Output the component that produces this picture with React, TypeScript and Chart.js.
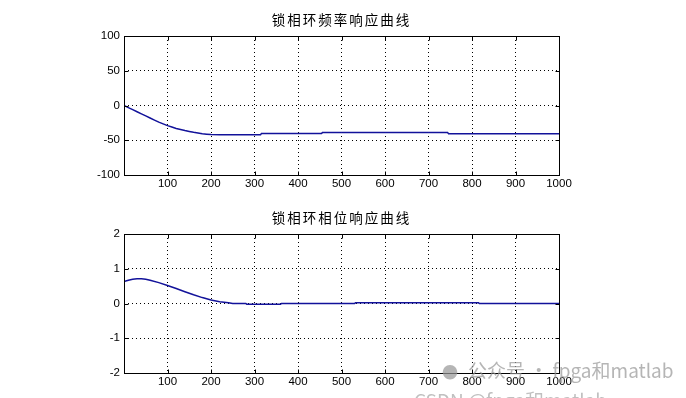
import React, { useEffect, useRef } from "react";
import { Chart, registerables } from "chart.js";

Chart.register(...registerables);

const freqTitle = "锁相环频率响应曲线";
const phaseTitle = "锁相环相位响应曲线";

const freqX = [0, 10, 20, 30, 40, 50, 60, 70, 80, 90, 100, 110, 120, 130, 140, 150, 160, 170, 180, 190, 200, 220, 250, 280, 314, 316, 454, 456, 744, 746, 1000];
const freqY = [0, -3, -6, -9, -12, -15, -18, -21, -24, -26.5, -29, -31, -33, -34.5, -36, -37.3, -38.5, -39.5, -40.5, -41.2, -41.8, -42, -42, -42, -42, -40.2, -40.2, -39, -39, -40.5, -40.5];

const phaseX = [0, 10, 20, 30, 40, 50, 60, 80, 100, 120, 140, 160, 180, 200, 220, 240, 250, 280, 282, 360, 362, 530, 532, 815, 817, 1000];
const phaseY = [0.63, 0.67, 0.7, 0.71, 0.71, 0.7, 0.67, 0.6, 0.52, 0.43, 0.34, 0.25, 0.17, 0.1, 0.05, 0.02, 0, 0, -0.02, -0.02, 0, 0, 0.02, 0.02, 0, 0];

const xTicks = [100, 200, 300, 400, 500, 600, 700, 800, 900, 1000];
const freqYRange = [-100, 100];
const freqYStep = 50;
const phaseYRange = [-2, 2];
const phaseYStep = 1;

const W = 686;
const H = 199;

const boxPlugin = {
  id: "box",
  afterDraw(chart: any) {
    const { ctx, chartArea, scales } = chart;
    const l = Math.round(chartArea.left) + 0.5;
    const t = Math.round(chartArea.top) + 0.5;
    const r = Math.round(chartArea.right) + 0.5;
    const b = Math.round(chartArea.bottom) + 0.5;
    ctx.save();
    ctx.strokeStyle = "#000";
    ctx.lineWidth = 1;
    ctx.strokeRect(l, t, r - l, b - t);
    const len = 4;
    ctx.beginPath();
    scales.x.ticks.forEach((tk: any) => {
      const px = Math.round(scales.x.getPixelForValue(tk.value)) + 0.5;
      ctx.moveTo(px, b);
      ctx.lineTo(px, b - len);
      ctx.moveTo(px, t);
      ctx.lineTo(px, t + len);
    });
    scales.y.ticks.forEach((tk: any) => {
      const py = Math.round(scales.y.getPixelForValue(tk.value)) + 0.5;
      ctx.moveTo(l, py);
      ctx.lineTo(l + len, py);
      ctx.moveTo(r, py);
      ctx.lineTo(r - len, py);
    });
    ctx.stroke();
    ctx.restore();
  },
};

function makeConfig(xs: number[], ys: number[], yr: number[], step: number, topPad: number) {
  const font = { family: "'Liberation Sans', Arial, sans-serif", size: 11.5 };
  return {
    type: "line" as const,
    data: {
      datasets: [
        {
          data: xs.map((x, i) => ({ x, y: ys[i] })),
          borderColor: "#12129a",
          borderWidth: 1.5,
          pointRadius: 0,
          tension: 0,
          fill: false,
        },
      ],
    },
    options: {
      responsive: false,
      animation: false as const,
      layout: { padding: { left: 0, right: W - 559, top: topPad, bottom: 4 } },
      plugins: { legend: { display: false }, tooltip: { enabled: false }, title: { display: false } },
      scales: {
        x: {
          type: "linear" as const,
          min: 0,
          max: 1000,
          afterBuildTicks: (scale: any) => {
            scale.ticks = [0, ...xTicks].map((v) => ({ value: v }));
          },
          ticks: {
            color: "#000",
            font,
            padding: 2,
            maxRotation: 0,
            autoSkip: false,
            callback: (v: any) => (v === 0 ? "" : String(v)),
          },
          grid: { color: "#000", lineWidth: 1, drawTicks: false },
          border: { display: false, dash: [1, 3] },
          afterFit: (scale: any) => {
            scale.height = H - 175 - 4;
          },
        },
        y: {
          min: yr[0],
          max: yr[1],
          ticks: { stepSize: step, color: "#000", font, padding: 4 },
          grid: { color: "#000", lineWidth: 1, drawTicks: false },
          border: { display: false, dash: [1, 3] },
          afterFit: (scale: any) => {
            scale.width = 124;
          },
        },
      },
    },
    plugins: [boxPlugin],
  };
}

function SubPlot({ xs, ys, yr, step, top, title }: any) {
  const ref = useRef<HTMLCanvasElement>(null);
  useEffect(() => {
    const cfg: any = makeConfig(xs, ys, yr, step, 36);
    const chart = new Chart(ref.current as HTMLCanvasElement, cfg);
    return () => chart.destroy();
  }, []);
  return (
    <div style={{ position: "absolute", left: 0, top, width: W, height: H }}>
      <canvas ref={ref} width={W} height={H} style={{ display: "block" }} />
      <div
        style={{
          position: "absolute",
          left: 124,
          width: 435,
          top: 10,
          textAlign: "center",
          fontFamily: "'Noto Sans CJK SC', sans-serif",
          fontSize: 13.5,
          letterSpacing: 2,
          color: "#000",
          lineHeight: "18px",
        }}
      >
        {title}
      </div>
    </div>
  );
}

export default function App() {
  useEffect(() => {
    document.body.style.margin = "0";
    document.body.style.background = "#fff";
  }, []);
  return (
    <div style={{ position: "relative", width: W, height: 398, overflow: "hidden", background: "#fff" }}>
      <SubPlot xs={freqX} ys={freqY} yr={freqYRange} step={freqYStep} top={0} title={freqTitle} />
      <SubPlot xs={phaseX} ys={phaseY} yr={phaseYRange} step={phaseYStep} top={198} title={phaseTitle} />
      <div
        style={{
          position: "absolute",
          left: 442,
          top: 358,
          fontFamily: "'Noto Sans CJK SC', sans-serif",
          fontSize: 19,
          color: "rgba(150,150,150,0.7)",
          lineHeight: "24px",
          whiteSpace: "nowrap",
        }}
      >
        <span style={{ fontSize: 16, marginRight: 10 }}>●</span>公众号 · fpga和matlab
      </div>
      <div
        style={{
          position: "absolute",
          left: 414,
          top: 388,
          fontFamily: "'Noto Sans CJK SC', sans-serif",
          fontSize: 19,
          color: "rgba(150,150,150,0.6)",
          lineHeight: "24px",
          whiteSpace: "nowrap",
        }}
      >
        CSDN @fpga和matlab
      </div>
    </div>
  );
}
